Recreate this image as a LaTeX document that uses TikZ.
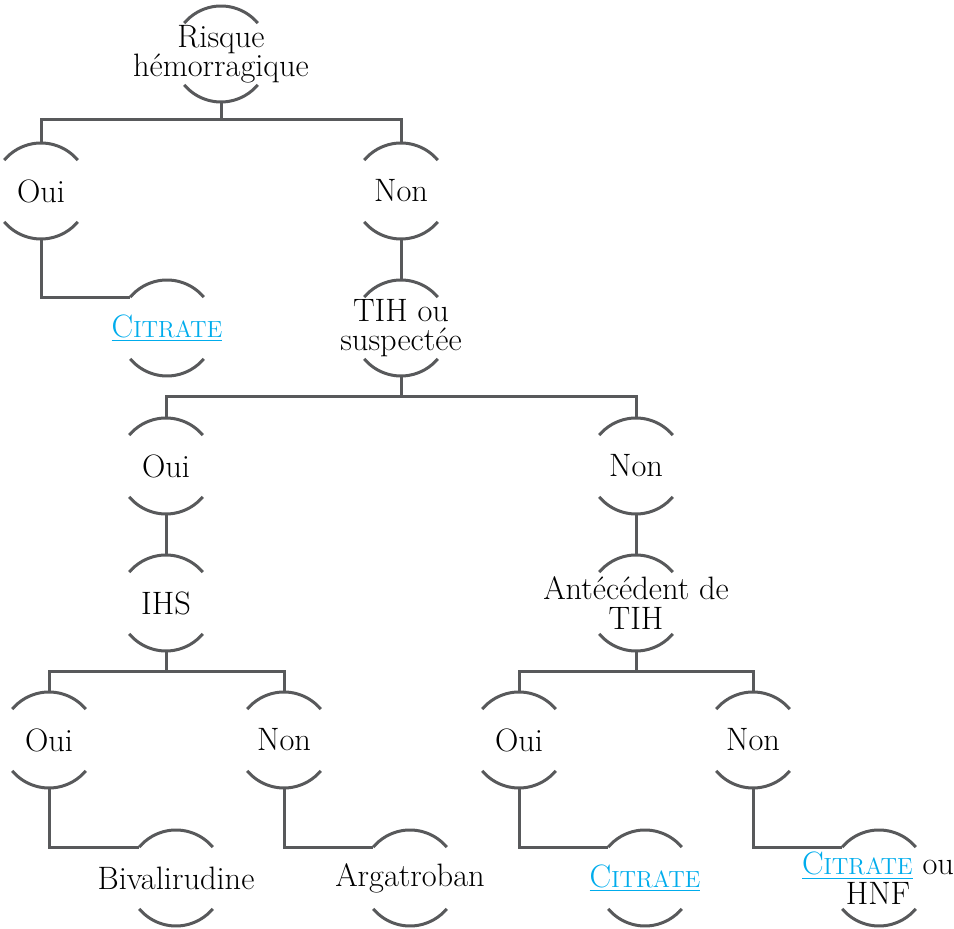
\documentclass[tikz,border=0pt]{standalone}
\usetikzlibrary{calc}
\definecolor{lncol}{RGB}{88,89,91}
\definecolor{linkcol}{RGB}{0,172,236}
\newcommand\citr{{\color{linkcol}\underline{C{\fontsize{11.7}{12}\selectfont ITRATE}}}}
\tikzset{
  ln/.style={draw=lncol, line width=1.5pt},
  circ/.style={circle, minimum size=48pt, inner sep=0pt, outer sep=0pt},
  txt/.style={align=center, inner sep=0pt, font=\fontsize{16.2}{14.7}\selectfont},
}
\newcommand\twoarcs[1]{%
  \draw[ln] ([shift={(40:24pt)}]#1.center) arc[start angle=40,end angle=140,radius=24pt];
  \draw[ln] ([shift={(-140:24pt)}]#1.center) arc[start angle=-140,end angle=-40,radius=24pt];}
\begin{document}
\begin{tikzpicture}[x=0.5pt,y=-0.5pt]
\useasboundingbox (0,0) rectangle (954,929);
% circle frames
\node[circ] (R) at (221,54) {};
\node[circ] (A) at (41,191) {};
\node[circ] (B) at (401,191) {};
\node[circ] (D) at (167,328) {};
\node[circ] (C) at (401,328) {};
\node[circ] (E) at (166,466) {};
\node[circ] (F) at (636,466) {};
\node[circ] (G) at (166,603) {};
\node[circ] (H) at (636,603) {};
\node[circ] (I) at (49,740) {};
\node[circ] (J) at (284,740) {};
\node[circ] (K) at (176,878) {};
\node[circ] (L) at (410,878) {};
\node[circ] (M) at (519,740) {};
\node[circ] (N) at (753,740) {};
\node[circ] (O) at (645,878) {};
\node[circ] (P) at (879,878) {};
% texts
\node[txt] (Rt) at (R) {Risque\\hémorragique};
\node[txt] (At) at (A) {Oui};
\node[txt] (Bt) at (B) {Non};
\node[txt] (Dt) at (D) {\citr};
\node[txt] (Ct) at (C) {TIH ou\\suspectée};
\node[txt] (Et) at (E) {Oui};
\node[txt] (Ft) at (F) {Non};
\node[txt] (Gt) at (G) {IHS};
\node[txt] (Ht) at (H) {Antécédent de\\TIH};
\node[txt] (It) at (I) {Oui};
\node[txt] (Jt) at (J) {Non};
\node[txt] (Kt) at (K) {Bivalirudine};
\node[txt] (Lt) at (L) {Argatroban};
\node[txt] (Mt) at (M) {Oui};
\node[txt] (Nt) at (N) {Non};
\node[txt] (Ot) at (O) {\citr};
\node[txt] (Pt) at ($(P)+(-0.5pt,0)$) {\citr{} ou\\HNF};
% arcs
\foreach \n in {R,A,B,C,D,E,F,G,H,I,J,K,L,M,N,O,P} {\twoarcs{\n}}
% connectors
\draw[ln] (R.south) -- ++(0,-9pt) coordinate (rb) -| (A.north);
\draw[ln] (rb) -| (B.north);
\draw[ln] (A.south) |- (D.140);
\draw[ln] (B.south) -- (C.north);
\draw[ln] (C.south) -- ++(0,-10.5pt) coordinate (cb) -| (E.north);
\draw[ln] (cb) -| (F.north);
\draw[ln] (E.south) -- (G.north);
\draw[ln] (F.south) -- (H.north);
\draw[ln] (G.south) -- ++(0,-10.5pt) coordinate (gb) -| (I.north);
\draw[ln] (gb) -| (J.north);
\draw[ln] (H.south) -- ++(0,-10.5pt) coordinate (hb) -| (M.north);
\draw[ln] (hb) -| (N.north);
\draw[ln] (I.south) |- (K.140);
\draw[ln] (J.south) |- (L.140);
\draw[ln] (M.south) |- (O.140);
\draw[ln] (N.south) |- (P.140);
\end{tikzpicture}
\end{document}
